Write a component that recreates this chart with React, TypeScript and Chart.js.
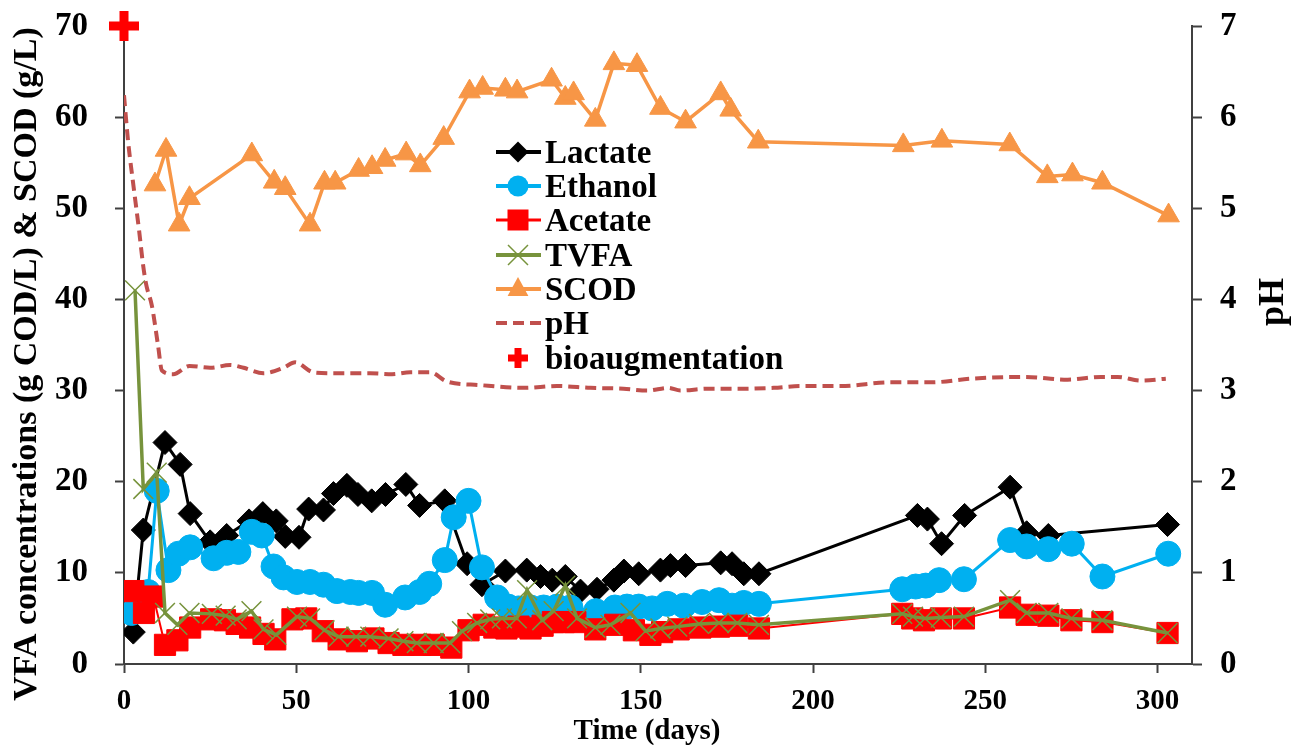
import React, { useEffect, useRef } from 'react';
import { Chart, registerables } from 'chart.js';

Chart.register(...registerables);

// ---------- tick labels ----------
const X_TICKS = [0, 50, 100, 150, 200, 250, 300];
const LEFT_TICKS = [0, 10, 20, 30, 40, 50, 60, 70];
const RIGHT_TICKS = [0, 1, 2, 3, 4, 5, 6, 7];

// ---------- series: [day, value] ----------
const lactate: [number, number][] = [
  [2.7, 3.5], [5.6, 14.7], [11.9, 24.3], [16.3, 21.9], [19.2, 16.5], [25, 13.4], [29.8, 14.1],
  [36.3, 15.7], [40.3, 16.5], [44.2, 15.7], [46.8, 14.0], [50.8, 13.9], [53.6, 17.0], [57.9, 16.9],
  [60.8, 18.7], [64.7, 19.6], [67.9, 18.6], [71.9, 17.9], [75.9, 18.6], [81.8, 19.7], [85.8, 17.4],
  [93.1, 17.9], [99.6, 11.0], [103.9, 8.7], [110.7, 10.2], [116.9, 10.3], [120.9, 9.6], [124.3, 9.2],
  [128.1, 9.6], [132.5, 8.0], [137.3, 8.2], [142.2, 9.2], [145.1, 10.2], [149.4, 9.9], [155.7, 10.3],
  [158.6, 10.8], [163, 10.8], [173.2, 11.1], [176.5, 11.0], [179.9, 9.9], [184.3, 9.9],
  [230.3, 16.3], [233.2, 15.9], [237.3, 13.2], [244, 16.3], [257.2, 19.4], [262, 14.4], [268.3, 14.1],
  [302.9, 15.3],
];

const ethanol: [number, number][] = [
  [2.2, 5.6], [7, 7.9], [9.5, 19.0], [12.9, 10.3], [15.8, 12.1], [19.2, 12.8], [26, 11.6], [29.8, 12.2],
  [33.2, 12.3], [37.1, 14.5], [40, 14.1], [43.4, 10.7], [46.3, 9.5], [50.2, 9.0], [54, 9.0], [57.9, 8.7],
  [61.8, 8.0], [65.7, 7.9], [68.1, 7.8], [72, 7.8], [75.8, 6.5], [81.6, 7.3], [85.8, 7.9], [88.6, 8.8],
  [93.1, 11.4], [95.7, 16.1], [100, 17.9], [103.9, 10.6], [108.3, 7.3], [111.5, 6.3], [114.5, 6.1],
  [118, 6.2], [121.8, 6.2], [125.7, 6.3], [129.6, 6.2], [137, 5.8], [142.5, 6.2], [146, 6.3],
  [149.4, 6.3], [153.3, 6.1], [157.7, 6.6], [162.5, 6.4], [167.8, 6.8], [172.7, 7.0], [176.5, 6.4],
  [179.9, 6.7], [184.3, 6.6], [225.9, 8.2], [229.8, 8.5], [232.7, 8.6], [236.6, 9.2], [243.8, 9.3],
  [257.2, 13.6], [262, 12.9], [268.3, 12.6], [275.1, 13.2], [284, 9.6], [303.1, 12.1],
];

const acetate: [number, number][] = [
  [2.7, 8.0], [5.8, 5.6], [8.5, 7.4], [11.9, 2.1], [15.5, 2.6], [19.2, 4.0], [25.3, 4.9], [29.3, 4.8],
  [32.7, 4.4], [36.6, 4.0], [40.5, 3.3], [43.9, 2.7], [48.9, 4.9], [52.9, 5.0], [57.7, 3.6], [62.3, 2.7],
  [67.6, 2.5], [72.4, 2.8], [76.8, 2.3], [81.1, 2.1], [86, 2.1], [89.9, 2.1], [95, 1.8], [100, 3.7],
  [104.4, 4.3], [107.5, 4.0], [111, 3.9], [114.5, 4.1], [118, 3.9], [121.5, 4.2], [124.5, 4.6],
  [127.6, 4.6], [131, 4.6], [136.8, 3.8], [142.6, 4.3], [148, 3.7], [152.8, 3.2], [156.2, 3.5],
  [161, 3.8], [167.3, 4.0], [172.7, 4.1], [178, 4.2], [184.3, 3.9], [225.9, 5.5], [228.8, 5.0],
  [232.2, 4.8], [237.1, 5.0], [243.8, 5.0], [257.2, 6.2], [262, 5.4], [268.3, 5.3], [275, 4.8],
  [284, 4.6], [302.9, 3.4],
];

const tvfa: [number, number][] = [
  [3.2, 41.0], [5.6, 19.2], [9.5, 21.0], [11.9, 5.6], [15.5, 4.3], [19, 5.6], [25.5, 5.5], [29.5, 5.3],
  [32.7, 4.9], [37, 5.8], [40.5, 3.8], [44.2, 3.2], [50.2, 5.2], [54, 5.0], [58.2, 3.7], [62.3, 3.0],
  [67.4, 3.0], [71.5, 3.0], [76.8, 2.8], [81.1, 2.5], [85, 2.3], [89.9, 2.3], [94.7, 2.3], [98.1, 3.6],
  [102.5, 4.5], [106.3, 4.9], [109.7, 5.0], [114, 5.0], [117, 8.1], [121.4, 4.8], [124.7, 5.8],
  [128.1, 8.6], [131.5, 5.0], [136.8, 4.0], [141.2, 4.3], [147, 5.6], [151.4, 3.6], [155.7, 3.9],
  [160.6, 4.1], [166.9, 4.4], [172.7, 4.5], [178, 4.5], [184.3, 4.3], [225.9, 5.5], [229, 5.2],
  [232.5, 5.0], [237.1, 5.1], [243.8, 5.2], [257.2, 7.0], [262, 5.6], [268.3, 5.6], [275, 5.0],
  [284, 4.8], [302.9, 3.4],
];

const scod: [number, number][] = [
  [9, 52.6], [12.2, 56.4], [16, 48.2], [19, 51.1], [37.1, 55.9], [43.6, 52.9], [46.8, 52.2], [54, 48.2],
  [58.2, 52.8], [61.3, 52.8], [68.1, 54.2], [72, 54.5], [75.8, 55.3], [81.9, 56.0], [86, 54.7],
  [92.8, 57.7], [100.3, 62.8], [104.1, 63.2], [110.7, 63.0], [114.1, 62.8], [124.1, 64.1], [128.1, 62.1],
  [130.5, 62.6], [136.8, 59.7], [142.2, 65.9], [148.9, 65.7], [155.7, 61.0], [163, 59.5], [173.2, 62.6],
  [176.1, 60.8], [184.1, 57.3], [226.2, 56.9], [237.4, 57.4], [257.1, 57.0], [268, 53.5], [275.3, 53.7],
  [284, 52.8], [303.2, 49.2],
];

const ph: [number, number][] = [
  [0, 6.24], [1.2, 5.73], [2.6, 5.29], [4.4, 4.75], [5.5, 4.39], [6.4, 4.17], [8.1, 3.93], [9.9, 3.49],
  [11, 3.22], [14.3, 3.18], [19, 3.27], [25, 3.25], [30.8, 3.28], [34.7, 3.25], [40.5, 3.19], [46.3, 3.25],
  [49.7, 3.31], [55, 3.2], [61.8, 3.19], [71.5, 3.19], [77.8, 3.18], [83.1, 3.2], [88.9, 3.2], [93.7, 3.1],
  [103.4, 3.06], [116, 3.03], [125.7, 3.05], [135.4, 3.03], [145, 3.02], [151.9, 3.0], [158, 3.03],
  [161.5, 3.0], [169.3, 3.02], [179, 3.02], [188.6, 3.03], [196.4, 3.05], [208, 3.05], [222.5, 3.09],
  [234.2, 3.09], [245.8, 3.13], [261.3, 3.15], [273.9, 3.12], [283.6, 3.15], [288.4, 3.15], [295.2, 3.11],
  [302.4, 3.13],
];

const bioaugmentation: [number, number][] = [[0, 70]];

// ---------- styles ----------
const FONT = '"Liberation Serif", "Times New Roman", serif';
const AXIS = '#404040';
const C_LAC = '#000000';
const C_ETH = '#00B0F0';
const C_ACE = '#FF0000';
const C_TVFA = '#77933C';
const C_SCOD = '#F79646';
const C_PH = '#C0504D';

const LEGEND = ['Lactate', 'Ethanol', 'Acetate', 'TVFA', 'SCOD', 'pH', 'bioaugmentation'];

const toXY = (a: [number, number][]) => a.map(([x, y]) => ({ x, y }));

function drawMarker(ctx: CanvasRenderingContext2D, kind: string, x: number, y: number) {
  ctx.save();
  ctx.beginPath();
  if (kind === 'Lactate') {
    ctx.fillStyle = C_LAC;
    const r = 10.5;
    ctx.moveTo(x, y - r); ctx.lineTo(x + r, y); ctx.lineTo(x, y + r); ctx.lineTo(x - r, y); ctx.closePath();
    ctx.fill();
  } else if (kind === 'Ethanol') {
    ctx.fillStyle = C_ETH;
    ctx.arc(x, y, 10.5, 0, Math.PI * 2);
    ctx.fill();
  } else if (kind === 'Acetate') {
    ctx.fillStyle = C_ACE;
    ctx.rect(x - 10.5, y - 10.5, 21, 21);
    ctx.fill();
  } else if (kind === 'TVFA') {
    ctx.strokeStyle = C_TVFA;
    ctx.lineWidth = 1.5;
    const r = 10;
    ctx.moveTo(x - r, y - r); ctx.lineTo(x + r, y + r);
    ctx.moveTo(x + r, y - r); ctx.lineTo(x - r, y + r);
    ctx.stroke();
  } else if (kind === 'SCOD') {
    ctx.fillStyle = C_SCOD;
    const r = 12;
    ctx.moveTo(x, y - r);
    ctx.lineTo(x + r * 0.866, y + r * 0.5 + 1);
    ctx.lineTo(x - r * 0.866, y + r * 0.5 + 1);
    ctx.closePath();
    ctx.fill();
  } else if (kind === 'bioaugmentation') {
    ctx.strokeStyle = '#FF0000';
    ctx.lineWidth = 7;
    const r = 10;
    ctx.moveTo(x - r, y); ctx.lineTo(x + r, y);
    ctx.moveTo(x, y - r); ctx.lineTo(x, y + r);
    ctx.stroke();
  }
  ctx.restore();
}

const overlayPlugin = {
  id: 'overlay',
  afterDraw(chart: any) {
    const ctx: CanvasRenderingContext2D = chart.ctx;
    ctx.save();
    ctx.fillStyle = '#000';
    // axis titles
    ctx.font = `bold 34px ${FONT}`;
    ctx.textAlign = 'center';
    ctx.textBaseline = 'alphabetic';
    ctx.save();
    ctx.translate(36, 364);
    ctx.rotate(-Math.PI / 2);
    ctx.fillText('VFA concentrations (g COD/L) & SCOD (g/L)', 0, 0);
    ctx.restore();

    ctx.save();
    ctx.font = `bold 36px ${FONT}`;
    ctx.translate(1283, 302);
    ctx.rotate(-Math.PI / 2);
    ctx.fillText('pH', 0, 0);
    ctx.restore();

    ctx.font = `bold 29px ${FONT}`;
    ctx.fillText('Time (days)', 647, 739);

    // legend
    const ys = [152, 186, 220, 255, 289, 323, 358];
    const colors: Record<string, string> = {
      Lactate: C_LAC, Ethanol: C_ETH, Acetate: C_ACE, TVFA: C_TVFA, SCOD: C_SCOD, pH: C_PH,
    };
    LEGEND.forEach((name, i) => {
      const y = ys[i];
      if (name !== 'bioaugmentation') {
        ctx.save();
        ctx.strokeStyle = colors[name];
        ctx.lineWidth = name === 'Acetate' ? 3 : 4;
        if (name === 'pH') ctx.setLineDash([11, 6]);
        ctx.beginPath();
        ctx.moveTo(496, y);
        ctx.lineTo(541, y);
        ctx.stroke();
        ctx.restore();
      }
      drawMarker(ctx, name, 518, y);
      ctx.fillStyle = '#000';
      ctx.font = `bold 33px ${FONT}`;
      ctx.textAlign = 'left';
      ctx.textBaseline = 'alphabetic';
      ctx.fillText(name, 545, y + 11);
    });
    ctx.restore();
  },
};

export default function App() {
  const ref = useRef<HTMLCanvasElement>(null);

  useEffect(() => {
    document.body.style.margin = '0';
    const canvas = ref.current;
    if (!canvas) return;

    const tickFontY = { family: FONT, size: 33, weight: 'bold' as const };
    const tickFontX = { family: FONT, size: 29, weight: 'bold' as const };

    const fitY = (w: number) => (s: any) => {
      s.width = w;
      s.paddingTop = 0;
      s.paddingBottom = 0;
    };

    const chart = new Chart(canvas, {
      type: 'line',
      data: {
        datasets: [
          {
            label: 'Lactate', data: toXY(lactate), yAxisID: 'y', order: 6,
            borderColor: C_LAC, backgroundColor: C_LAC, borderWidth: 3,
            pointStyle: 'rectRot', pointRadius: 12, pointBackgroundColor: C_LAC, pointBorderColor: C_LAC, pointBorderWidth: 1,
          },
          {
            label: 'Ethanol', data: toXY(ethanol), yAxisID: 'y', order: 5,
            borderColor: C_ETH, backgroundColor: C_ETH, borderWidth: 3,
            pointStyle: 'circle', pointRadius: 12.5, pointBackgroundColor: C_ETH, pointBorderColor: C_ETH, pointBorderWidth: 1,
          },
          {
            label: 'Acetate', data: toXY(acetate), yAxisID: 'y', order: 4,
            borderColor: C_ACE, backgroundColor: C_ACE, borderWidth: 2,
            pointStyle: 'rect', pointRadius: 15, pointBackgroundColor: C_ACE, pointBorderColor: C_ACE, pointBorderWidth: 1,
          },
          {
            label: 'TVFA', data: toXY(tvfa), yAxisID: 'y', order: 3,
            borderColor: C_TVFA, backgroundColor: C_TVFA, borderWidth: 3.5,
            pointStyle: 'crossRot', pointRadius: 14, pointBorderColor: C_TVFA, pointBorderWidth: 1.5,
          },
          {
            label: 'SCOD', data: toXY(scod), yAxisID: 'y', order: 2,
            borderColor: C_SCOD, backgroundColor: C_SCOD, borderWidth: 3.5,
            pointStyle: 'triangle', pointRadius: 12.5, pointBackgroundColor: C_SCOD, pointBorderColor: C_SCOD, pointBorderWidth: 1,
          },
          {
            label: 'pH', data: toXY(ph), yAxisID: 'y2', order: 1,
            borderColor: C_PH, backgroundColor: C_PH, borderWidth: 4, borderDash: [11, 6],
            cubicInterpolationMode: 'monotone', pointRadius: 0,
          },
          {
            label: 'bioaugmentation', data: toXY(bioaugmentation), yAxisID: 'y', order: 0,
            showLine: false, clip: false as any,
            pointStyle: 'cross', pointRadius: 15, pointBorderColor: '#FF0000', pointBorderWidth: 9,
            borderColor: '#FF0000', backgroundColor: '#FF0000',
          },
        ],
      },
      options: {
        animation: false,
        responsive: false,
        maintainAspectRatio: false,
        events: [],
        layout: { padding: { top: 26, left: 0, right: 0, bottom: 0 } },
        plugins: { legend: { display: false }, tooltip: { enabled: false }, title: { display: false } },
        scales: {
          x: {
            type: 'linear', min: 0, max: 310,
            afterBuildTicks: (s: any) => { s.ticks = X_TICKS.map((v) => ({ value: v })); },
            afterFit: (s: any) => { s.height = 81; s.paddingLeft = 0; s.paddingRight = 0; },
            ticks: { font: tickFontX, color: '#000', padding: 11, maxRotation: 0, autoSkip: false, includeBounds: false },
            grid: { drawOnChartArea: false, drawTicks: true, tickLength: 9, tickWidth: 2, tickColor: AXIS },
            border: { display: true, color: AXIS, width: 2 },
          },
          y: {
            type: 'linear', position: 'left', min: 0, max: 70,
            afterBuildTicks: (s: any) => { s.ticks = LEFT_TICKS.map((v) => ({ value: v })); },
            afterFit: fitY(124),
            ticks: { font: tickFontY, color: '#000', padding: 27 },
            grid: { drawOnChartArea: false, drawTicks: true, tickLength: 9, tickWidth: 2, tickColor: AXIS },
            border: { display: true, color: AXIS, width: 2 },
          },
          y2: {
            type: 'linear', position: 'right', min: 0, max: 7,
            afterBuildTicks: (s: any) => { s.ticks = RIGHT_TICKS.map((v) => ({ value: v })); },
            afterFit: fitY(111),
            ticks: { font: tickFontY, color: '#000', padding: 18 },
            grid: { drawOnChartArea: false, drawTicks: true, tickLength: 10, tickWidth: 2, tickColor: AXIS },
            border: { display: true, color: AXIS, width: 2 },
          },
        },
      } as any,
      plugins: [overlayPlugin],
    });
    return () => chart.destroy();
  }, []);

  return (
    <div style={{ width: 1303, height: 745, background: '#fff' }}>
      <canvas ref={ref} width={1303} height={745} style={{ display: 'block', width: 1303, height: 745 }} />
    </div>
  );
}
